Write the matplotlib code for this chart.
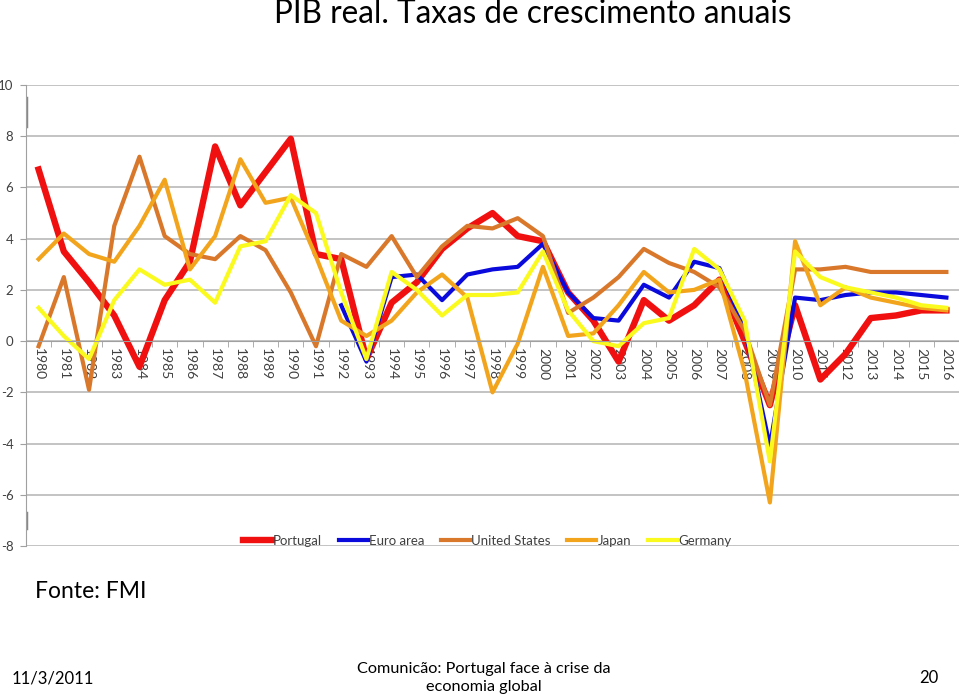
import numpy as np
import matplotlib
matplotlib.use("Agg")
import matplotlib.pyplot as plt

plt.rcParams["axes.unicode_minus"] = False

# Annual real GDP growth (%)

years = [str(y) for y in range(1980, 2017)]

portugal = [6.7, 3.5, 2.3, 1.0, -1.0, 1.6, 3.1, 7.6, 5.3, 6.6, 7.9, 3.4, 3.2, -0.7, 1.5, 2.3, 3.6,
            4.4, 5.0, 4.1, 3.9, 1.9, 0.8, -0.8, 1.6, 0.8, 1.4, 2.4, 0.0, -2.5, 1.4, -1.5, -0.5,
            0.9, 1.0, 1.2, 1.2]
euro_area = [np.nan] * 12 + [1.4, -0.8, 2.5, 2.6, 1.6, 2.6, 2.8, 2.9, 3.8, 1.9, 0.9, 0.8, 2.2,
                             1.7, 3.1, 2.85, 0.5, -4.1, 1.7, 1.6, 1.8, 1.9, 1.9, 1.8, 1.7]
united_states = [-0.2, 2.5, -1.9, 4.5, 7.2, 4.1, 3.4, 3.2, 4.1, 3.55, 1.9, -0.2, 3.4, 2.9, 4.1,
                 2.5, 3.7, 4.5, 4.4, 4.8, 4.1, 1.1, 1.7, 2.5, 3.6, 3.05, 2.7, 2.1, 0.4, -2.5, 2.8,
                 2.8, 2.9, 2.7, 2.7, 2.7, 2.7]
japan = [3.2, 4.2, 3.4, 3.1, 4.5, 6.3, 2.8, 4.1, 7.1, 5.4, 5.6, 3.3, 0.8, 0.2, 0.8, 1.9, 2.6,
         1.7, -2.0, -0.1, 2.9, 0.2, 0.3, 1.4, 2.7, 1.9, 2.0, 2.4, -1.2, -6.3, 3.9, 1.4, 2.1,
         1.7, 1.5, 1.3, 1.2]
germany = [1.3, 0.2, -0.7, 1.6, 2.8, 2.2, 2.4, 1.5, 3.7, 3.9, 5.7, 5.0, 1.9, -0.7, 2.7, 2.0, 1.0,
           1.8, 1.8, 1.9, 3.5, 1.2, 0.0, -0.2, 0.7, 0.9, 3.6, 2.8, 0.8, -4.7, 3.5, 2.5, 2.1,
           1.9, 1.7, 1.4, 1.3]

series = [("Portugal", portugal, "#F01010", 4.6),
          ("Euro area", euro_area, "#0A0ADC", 3.0),
          ("United States", united_states, "#D9782A", 3.0),
          ("Japan", japan, "#F2A51C", 3.0),
          ("Germany", germany, "#FAFA1E", 3.0)]

fig = plt.figure(figsize=(9.59, 6.99), dpi=100)
ax = fig.add_axes([26 / 959, 1 - 546 / 699, 933 / 959, 461 / 699])

x = np.arange(len(years))
for name, vals, col, lw in series:
    ax.plot(x, vals, color=col, linewidth=lw, label=name)

ax.set_xlim(-0.5, len(years) - 0.5)
ax.set_ylim(-8, 10)
ax.set_yticks(range(-8, 11, 2))
ax.yaxis.grid(True, color="#BEBEBE", linewidth=1.3)
ax.set_axisbelow(True)
ax.tick_params(axis="y", length=4, color="#A0A0A0", labelsize=9.5, labelcolor="#404040", pad=5)
for lab in ax.get_yticklabels():
    lab.set_fontfamily("Lato")

# category axis sits on zero
for s in ["top", "right"]:
    ax.spines[s].set_visible(False)
ax.spines["bottom"].set_position(("data", 0))
ax.spines["bottom"].set_color("#A0A0A0")
ax.spines["left"].set_color("#A0A0A0")
ax.set_xticks(x)
ax.set_xticklabels(years, rotation=-90, fontsize=10, color="#404040", family="Lato")
ax.set_xticks(np.arange(-0.5, len(years), 1), minor=True)
ax.tick_params(axis="x", which="major", length=0, pad=5)
ax.tick_params(axis="x", which="minor", length=4, color="#A0A0A0")

# darker marks on the value axis, as in the scanned slide
ax.axvline(-0.5, ymin=0.911, ymax=0.972, color="#888888", linewidth=2.5)
ax.axvline(-0.5, ymin=0.039, ymax=0.072, color="#888888", linewidth=2.5)

leg = ax.legend(loc="lower center", bbox_to_anchor=(0.494, -0.028), ncol=5, frameon=False,
                handlelength=2.2, handletextpad=0.1, columnspacing=1.25,
                prop={"family": "Lato", "size": 9.5})
for t in leg.get_texts():
    t.set_color("#404040")

fig.text(533 / 959, 1 - 14 / 699, "PIB real. Taxas de crescimento anuais", ha="center", va="center",
         fontsize=22.7, family="Lato")
fig.text(35 / 959, 1 - 591 / 699, "Fonte: FMI", ha="left", va="center", fontsize=16.5, family="Lato")
fig.text(12 / 959, 1 - 678 / 699, "11/3/2011", ha="left", va="center", fontsize=12, family="Lato")
fig.text(484 / 959, 1 - 678 / 699, "Comunicão: Portugal face à crise da\neconomia global",
         ha="center", va="center", fontsize=11.7, family="Lato", linespacing=1.4)
fig.text(938 / 959, 1 - 678 / 699, "20", ha="right", va="center", fontsize=12, family="Lato")

fig.savefig("out.png", dpi=100)
